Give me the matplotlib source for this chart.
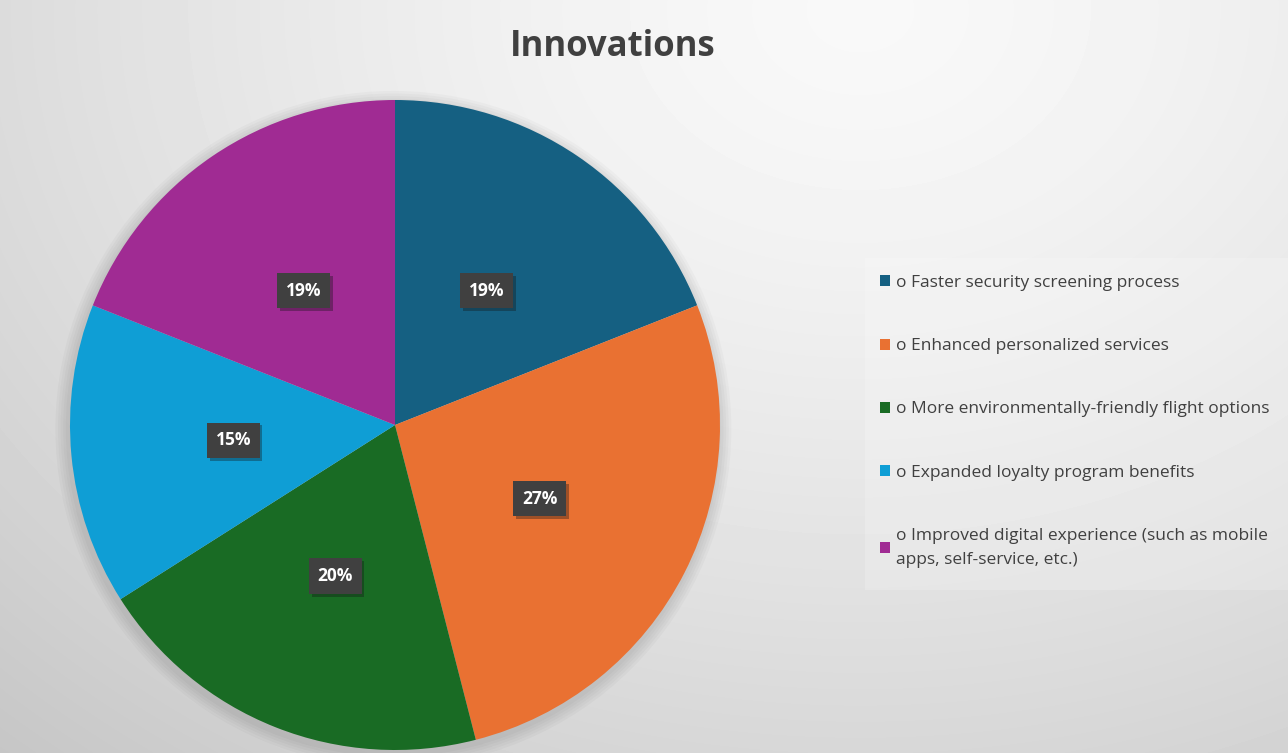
import matplotlib

matplotlib.use("Agg")
import matplotlib.pyplot as plt
import matplotlib.patheffects as pe
import numpy as np
from matplotlib.patches import Circle, Rectangle

# Data
categories = [
    "o Faster security screening process",
    "o Enhanced personalized services",
    "o More environmentally-friendly flight options",
    "o Expanded loyalty program benefits",
    "o Improved digital experience (such as mobile\napps, self-service, etc.)",
]
shares = [19, 27, 20, 15, 19]
colors = ["#156082", "#E97132", "#196B24", "#0F9ED5", "#A02B93"]
title = "Innovations"

W, H = 1288, 753
fig = plt.figure(figsize=(W / 100, H / 100), dpi=100)

# radial grey background, brightest near the top right
bg = fig.add_axes([0, 0, 1, 1], zorder=-10)
yy, xx = np.mgrid[0:H, 0:W]
d = np.hypot((xx - 860) / W, (yy - 10) / H * 0.75)
shade = np.clip(0.975 - 0.2 * d ** 1.4, 0.77, 1.0)
bg.imshow(shade, cmap="gray", vmin=0, vmax=1, extent=[0, W, H, 0], aspect="auto")
bg.set_xlim(0, W)
bg.set_ylim(H, 0)
bg.axis("off")

# legend panel
bg.add_patch(Rectangle((865, 258), 423, 332, facecolor="white", alpha=0.2, lw=0))

cx, cy, R = 395, 425, 325
ax = fig.add_axes([(cx - R) / W, (H - cy - R) / H, 2 * R / W, 2 * R / H])

# soft shadow behind the pie
for k in range(5):
    ax.add_patch(Circle((-0.005, -0.012), 1.0 + 0.008 * (k + 1), color="black",
                        alpha=0.025, lw=0, zorder=0, clip_on=False))

wedges, _ = ax.pie(
    shares,
    colors=colors,
    startangle=90,
    counterclock=False,
    radius=1.0,
    wedgeprops={"linewidth": 0},
)
for w in wedges:
    w.set_zorder(2)
    w.set_clip_on(False)

# data labels at half radius
for w, v in zip(wedges, shares):
    mid = np.deg2rad((w.theta1 + w.theta2) / 2)
    x, y = 0.5 * np.cos(mid), 0.5 * np.sin(mid)
    t = ax.text(x, y, f"{v}%", ha="center", va="center", fontsize=12.5,
                fontweight="bold", family="Open Sans", color="white",
                bbox={"boxstyle": "square,pad=0.5", "fc": "#404040", "ec": "none"},
                zorder=4)
    t.get_bbox_patch().set_path_effects(
        [pe.SimplePatchShadow(offset=(2, -2), alpha=0.35), pe.Normal()])

ax.set_xlim(-1, 1)
ax.set_ylim(-1, 1)
ax.set_aspect("auto")
ax.axis("off")

fig.text(613 / W, 1 - 47 / H, title, ha="center", va="center", fontsize=25,
         fontweight="bold", family="Open Sans", color="#404040")

leg = fig.legend(
    wedges,
    categories,
    loc="upper left",
    bbox_to_anchor=(873 / W, 1 - 268 / H),
    frameon=False,
    prop={"family": "Open Sans", "size": 12.5},
    labelcolor="#404040",
    handlelength=0.6,
    handleheight=0.6,
    handletextpad=0.35,
    labelspacing=2.72,
    borderaxespad=0,
)
leg.get_texts()[-1].set_linespacing(1.65)

fig.savefig("out.png", dpi=100)
